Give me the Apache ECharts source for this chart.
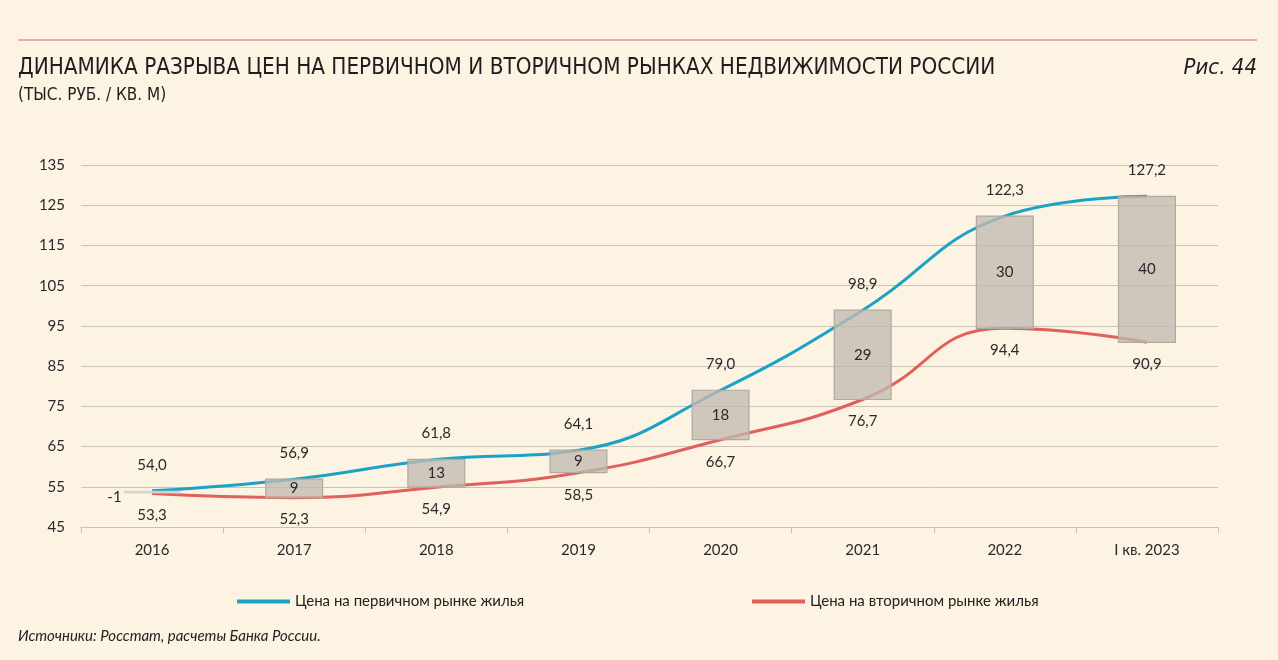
<!DOCTYPE html>
<html><head><meta charset="utf-8">
<script src="https://cdn.jsdelivr.net/npm/echarts@6/dist/echarts.min.js"></script>
<style>html,body{margin:0;padding:0;background:#fdf3e3;}#c{width:1278px;height:660px;}</style>
</head><body><div id="c"></div>
<script>
const categories = ['2016','2017','2018','2019','2020','2021','2022','I кв. 2023'];
const primary = [54.0, 56.9, 61.8, 64.1, 79.0, 98.9, 122.3, 127.2];
const secondary = [53.3, 52.3, 54.9, 58.5, 66.7, 76.7, 94.4, 90.9];
const gaps = [-1, 9, 13, 9, 18, 29, 30, 40];
const yTicks = {min: 45, max: 135, interval: 10};

const fmt = v => v.toFixed(1).replace('.', ',');
const FONT = 'Lato, "Noto Sans", sans-serif';
const NARROW = '"Liberation Sans Narrow", "DejaVu Sans Condensed", sans-serif';
const chart = echarts.init(document.getElementById('c'), null, {renderer: 'canvas'});

const boxData = categories.map((c, i) => [i, secondary[i], primary[i], gaps[i]]);

chart.setOption({
  backgroundColor: '#fdf3e3',
  animation: false,
  textStyle: {fontFamily: FONT},
  title: [
    {text: 'ДИНАМИКА РАЗРЫВА ЦЕН НА ПЕРВИЧНОМ И ВТОРИЧНОМ РЫНКАХ НЕДВИЖИМОСТИ РОССИИ', left: 13, top: 52,
     textStyle: {fontFamily: NARROW, fontSize: 22.3, fontWeight: 'normal', color: '#1e1e1e'}},
    {text: '(ТЫС. РУБ. / КВ. М)', left: 13, top: 82,
     textStyle: {fontFamily: NARROW, fontSize: 17, fontWeight: 'normal', color: '#1e1e1e'}},
    {text: 'Рис. 44', right: 16, top: 52,
     textStyle: {fontFamily: NARROW, fontSize: 22, fontStyle: 'italic', fontWeight: 'normal', color: '#1e1e1e'}},
    {text: 'Источники: Росстат, расчеты Банка России.', left: 13, top: 624,
     textStyle: {fontFamily: FONT, fontSize: 15, fontStyle: 'italic', fontWeight: 'normal', color: '#222'}}
  ],
  graphic: [
    {type: 'line', shape: {x1: 18, y1: 40, x2: 1257, y2: 40}, style: {stroke: '#d9656a', lineWidth: 1.2}}
  ],
  legend: [
    {data: ['Цена на первичном рынке жилья'], left: 232, top: 589, icon: 'rect', itemWidth: 53, itemHeight: 4, itemGap: 4,
     textStyle: {fontFamily: FONT, fontSize: 15, color: '#222'}},
    {data: ['Цена на вторичном рынке жилья'], left: 747, top: 589, icon: 'rect', itemWidth: 53, itemHeight: 4, itemGap: 4,
     textStyle: {fontFamily: FONT, fontSize: 15, color: '#222'}}
  ],
  grid: {left: 81, right: 60, top: 165, bottom: 133},
  xAxis: {
    type: 'category', data: categories, boundaryGap: true,
    axisLine: {lineStyle: {color: '#c9c1b6', width: 1}},
    axisTick: {show: true, length: 6, lineStyle: {color: '#c9c1b6'}},
    axisLabel: {fontFamily: FONT, fontSize: 15, color: '#2a2a2a', margin: 16}
  },
  yAxis: {
    type: 'value', min: yTicks.min, max: yTicks.max, interval: yTicks.interval,
    axisLine: {show: false}, axisTick: {show: false},
    splitLine: {lineStyle: {color: '#cbc3b8', width: 1}},
    axisLabel: {fontFamily: FONT, fontSize: 15, color: '#2a2a2a', margin: 16}
  },
  series: [
    {name: 'Цена на первичном рынке жилья', type: 'line', data: primary, smooth: 0.45, showSymbol: false,
     lineStyle: {color: '#1ba3c6', width: 3}, itemStyle: {color: '#1ba3c6'}, z: 2},
    {name: 'Цена на вторичном рынке жилья', type: 'line', data: secondary, smooth: 0.5, showSymbol: false,
     lineStyle: {color: '#e0605c', width: 3}, itemStyle: {color: '#e0605c'}, z: 2},
    {type: 'custom', data: boxData, z: 5,
     renderItem: function (params, api) {
       const i = api.value(0);
       const lo = api.coord([i, api.value(1)]);
       const hi = api.coord([i, api.value(2)]);
       const w = api.size([1, 0])[0] * 0.4;
       const x = lo[0] - w / 2;
       const h = Math.max(lo[1] - hi[1], 2.5);
       const small = h < 12;
       const children = [
         {type: 'rect', shape: {x: x, y: hi[1], width: w, height: h},
          style: small ? {fill: 'rgba(215,210,203,0.95)', stroke: null}
                       : {fill: 'rgba(194,186,177,0.78)', stroke: '#b0a9a0', lineWidth: 1.2}},
         {type: 'text', style: {text: String(api.value(3)),
            x: small ? x - 2 : lo[0], y: small ? lo[1] + 4 : (hi[1] + lo[1]) / 2,
            align: small ? 'right' : 'center', verticalAlign: 'middle',
            font: '15px ' + FONT, fill: '#2a2a2a'}},
         {type: 'text', style: {text: fmt(api.value(2)), x: hi[0], y: hi[1] - 26,
            align: 'center', verticalAlign: 'middle', font: '15px ' + FONT, fill: '#2a2a2a'}},
         {type: 'text', style: {text: fmt(api.value(1)), x: lo[0], y: lo[1] + 22,
            align: 'center', verticalAlign: 'middle', font: '15px ' + FONT, fill: '#2a2a2a'}}
       ];
       return {type: 'group', children: children};
     }}
  ]
});
</script></body></html>
